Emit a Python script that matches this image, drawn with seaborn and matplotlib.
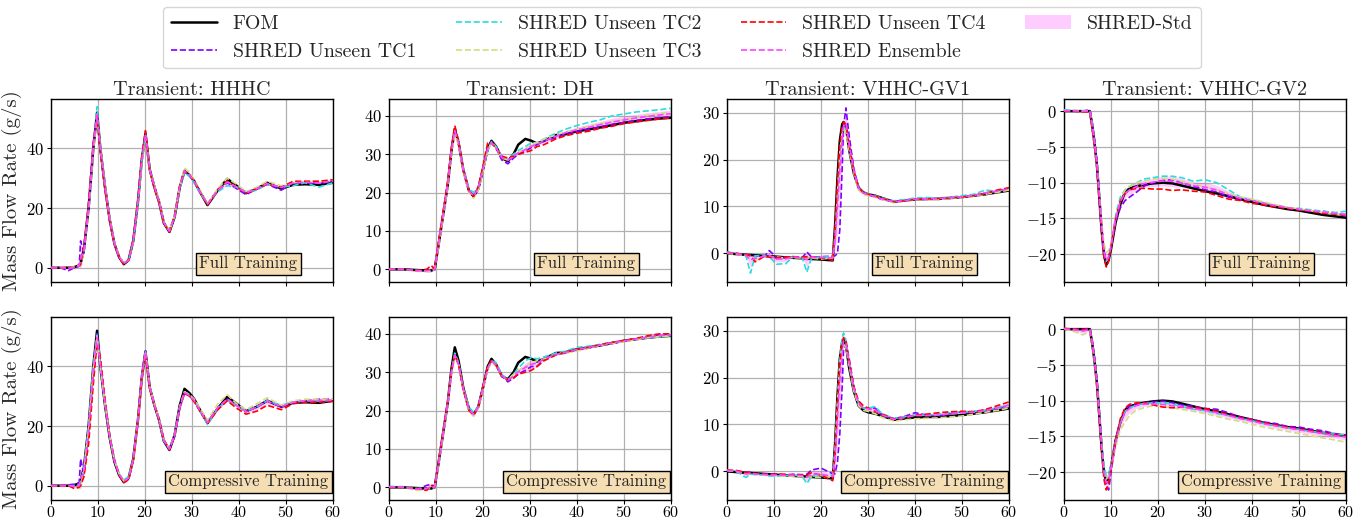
import numpy as np
import matplotlib
matplotlib.use("Agg")
import matplotlib.pyplot as plt
import seaborn as sns
from matplotlib.lines import Line2D
from matplotlib.patches import Patch

# ---------------------------------------------------------------- data
transients = ["HHHC", "DH", "VHHC-GV1", "VHHC-GV2"]
row_labels = ["Full Training", "Compressive Training"]

# --- HHHC
t_hhhc = [0, 2, 3.7, 5, 6, 6.3, 7, 8, 9, 9.8, 10.5, 11.5, 12.5, 13.5, 14.5, 15.5, 16.5, 17.5, 18.5, 19.3,
          20.1, 21, 22, 23, 24, 25.2, 26.3, 27.4, 28.4, 29.5, 30.5, 31.5, 33.3, 35.5, 37.5, 39.5, 41.5, 43.8,
          46, 49, 51.5, 54, 57, 60]
fom_hhhc = [0, 0, 0, 0.2, 0.8, 1.5, 6, 20, 40, 52, 40, 27, 16, 8, 3.5, 1.2, 2.5, 9, 22, 36,
            45, 33, 27, 22, 15, 12, 17, 27, 32.5, 31, 29, 26, 21, 26, 29.8, 27.5, 25, 26.5, 28.5, 26.5,
            27.8, 28, 27.8, 28.5]
hhhc_full_tc1 = [0, 0, -1, 0, 0.5, 9, 5, 20, 41, 51, 40, 27, 16, 8, 3.5, 1.5, 2.5, 9, 22, 36,
                 44.5, 33, 27.5, 22, 15, 12.2, 17, 27, 32, 31, 28.5, 26, 21.5, 26, 28.5, 26.5, 24.5, 26.5, 28, 26,
                 28.5, 28.5, 28.3, 29]
hhhc_full_tc2 = [0, 0, 0, 0, 0.5, 1, 6, 21, 41, 54, 41, 27, 16, 8, 3.5, 1.5, 2.5, 9, 22, 35.5,
                 44.5, 33, 27, 22, 15, 12.2, 17, 26.5, 32, 30.5, 28.5, 25.5, 21.5, 25.5, 27.5, 27, 25.5, 26, 28, 27,
                 27.5, 28.5, 27, 28.5]
hhhc_full_tc3 = [0, 0.3, 0, 0.3, 0.8, 1, 5, 19, 39, 50, 40, 27.5, 16.5, 8.5, 4, 1.5, 2.5, 8.5, 21, 35,
                 44, 33, 27.5, 22.5, 15.5, 12.5, 17.5, 27.5, 33.5, 32, 29.5, 26.5, 21.5, 26.5, 30, 28, 25.5, 27, 29, 27.5,
                 28.5, 29, 29, 29.5]
hhhc_full_tc4 = [0, 0, 0, 0, 0.5, 1, 7, 22, 42, 51, 39, 26, 15.5, 8, 3.5, 1, 2.5, 9.5, 23, 37,
                 46, 33, 26.5, 22, 15, 12, 17, 27.5, 32.5, 31, 29, 26, 21, 26, 29, 27, 25, 26.5, 28, 27,
                 29, 29, 29, 29.5]
hhhc_comp_tc1 = [0, 0, 0.3, 0.5, 1, 9, 4, 20, 40, 51, 40, 27, 16, 8, 3.5, 1.5, 2.5, 9, 22.5, 37,
                 45.5, 33, 27, 22, 15, 12, 16.5, 26, 31, 30, 28.5, 25.5, 21, 26, 29, 27, 25, 26.5, 28.5, 26.5,
                 28, 28.5, 29, 29]
hhhc_comp_tc2 = [0, 0, 0, 0, 0.5, 1, 6, 20, 40, 50.5, 40, 27.5, 16.5, 8.5, 4, 2, 3, 9, 22, 36,
                 45, 33, 27, 22, 15, 12.5, 17, 26.5, 31.5, 30.5, 28.5, 25.5, 20.5, 26, 28.5, 27, 25, 26.5, 28.5, 27,
                 28, 28.5, 28.5, 28.5]
hhhc_comp_tc3 = [0, 0, 0, -0.5, -1, 0, 5, 19, 39, 50, 40, 27.5, 16.5, 8.5, 4, 1.5, 2.5, 8.5, 21.5, 35.5,
                 44.5, 33, 27.5, 22.5, 15.5, 12.5, 17, 26.5, 31.5, 30.5, 29, 26.5, 22, 27.5, 30.5, 27.5, 25.5, 27.5, 29.5, 27,
                 28.5, 29, 29, 29]
hhhc_comp_tc4 = [0, 0, 0, -1, -0.5, 0, 3, 14, 34, 48, 43, 29, 16.5, 8.5, 3.5, 1, 2, 8.5, 21.5, 35.5,
                 44, 32.5, 27, 22, 15.5, 12, 16.5, 26, 31, 30, 28, 25.5, 21, 25.5, 28.5, 26, 24, 25, 27, 25.5,
                 27.5, 28, 28, 28.3]

# --- DH
t_dh = [0, 3, 6, 8, 9, 9.7, 10.5, 11.5, 12.5, 13.3, 14, 14.8, 15.8, 17, 18, 19, 20, 21, 21.8, 22.8,
        24, 25.3, 26.5, 27.5, 29, 30.3, 31.5, 33, 35.5, 37.5, 40, 42.5, 45, 47.5, 50, 52.5, 55, 57.5, 60]
fom_dh = [0, 0, -0.2, -0.3, -0.3, 0, 6, 14, 22, 31, 36.5, 33, 26, 20.5, 19, 21, 26, 31.5, 33.5, 32,
          29, 28.2, 30, 32.5, 34, 33.5, 32.8, 33.5, 35, 35.2, 36, 36.5, 37, 37.6, 38.2, 38.6, 39, 39.3, 39.5]
dh_full_tc1 = [0, 0, -0.3, -0.5, -0.5, 0, 6, 14, 22, 31, 36, 33, 26, 20.5, 19, 21, 26, 31, 33, 31.5,
               28.5, 27.5, 29, 30, 30.8, 31.8, 32.5, 33.5, 34.3, 35.2, 36, 36.5, 37.2, 37.8, 38.3, 38.8, 39.2, 39.5, 39.8]
dh_full_tc2 = [0, 0, -0.3, -0.5, -0.5, 0, 6.5, 14.5, 22.5, 31, 36, 33, 26.5, 21, 20, 21.5, 26, 31, 33.3, 32,
               29.5, 28.5, 30, 31, 32, 33, 33, 34, 35.5, 36.5, 37.5, 38.3, 39, 40, 40.5, 41, 41.3, 41.6, 42]
dh_full_tc3 = [0, 0, -0.5, -0.6, -0.5, 0, 5.5, 13.5, 21.5, 30, 35, 32.5, 25.5, 20, 18.5, 20.5, 25.5, 31, 33, 31.5,
               29, 28.5, 29.5, 30.5, 31.5, 32.5, 33, 34, 35, 35.8, 36.5, 37.3, 38, 38.5, 39, 39.5, 40.2, 40.6, 41]
dh_full_tc4 = [0, 0, -0.3, 0, 1, 0, 7, 15, 23, 32, 37.5, 33.5, 26, 20.5, 19, 21.5, 27, 33, 33, 31.5,
               29.5, 29, 29.5, 30, 30.5, 31, 32, 32.5, 34, 34.8, 35.5, 36, 36.8, 37.3, 38, 38.4, 38.8, 39.2, 39.5]
dh_comp_tc1 = [0.2, 0, -0.5, 0.5, 0.8, 0, 6, 14, 22, 30, 34.5, 32, 26, 20.5, 19, 21, 26, 31, 33, 32,
               29, 27.5, 28.5, 29.5, 30.5, 31.5, 31.5, 33.5, 34.5, 35, 35.8, 36.3, 37, 37.5, 38.2, 38.7, 39.2, 39.8, 40]
dh_comp_tc2 = [0.2, 0.2, -0.3, -0.3, 0, 0, 6, 14, 22, 30.5, 35, 32.5, 26, 21, 19.5, 21, 26, 31, 33, 32.5,
               29.5, 28, 29.5, 31, 33, 33.8, 33.5, 34, 35, 35.5, 36.5, 36.8, 37.3, 37.8, 38.2, 38.6, 39, 39.2, 39.5]
dh_comp_tc3 = [0, 0, -0.8, -0.5, -0.3, 0, 5.5, 13.5, 21.5, 29.5, 34, 32, 25.5, 20, 18.5, 20.5, 25.5, 30.5, 32.5, 31.5,
               29, 28, 29.5, 30.5, 31.5, 32.5, 33, 33.5, 34.5, 35, 35.5, 36.3, 37, 37.5, 38, 38.5, 39, 39.3, 39.5]
dh_comp_tc4 = [0, 0, -0.3, -0.8, 0.5, 0, 6.5, 14.5, 22.5, 30.5, 34.5, 32, 25.5, 20, 18.8, 21, 26.5, 31.5, 33, 31.8,
               29, 28, 28.5, 29.5, 30, 30.5, 31.5, 33, 34.5, 35.2, 36, 36.5, 37.2, 37.8, 38.3, 38.8, 39.5, 40, 40]

# --- VHHC-GV1
t_gv1 = [0, 2, 4, 5, 6, 8, 9, 10.5, 12.5, 14, 16, 17, 18, 20, 22.5, 23, 23.5, 24, 24.5, 24.8,
         25.3, 26, 27, 28, 29, 30, 31.5, 33, 35.5, 38, 40, 42.5, 45, 47.5, 50, 52.5, 55, 57.5, 60]
fom_gv1 = [0, -0.15, -0.3, -0.35, -0.4, -0.55, -0.6, -0.7, -0.85, -0.95, -1.05, -1.1, -1.2, -1.3, -1.5, 6, 16, 24, 27.5, 28,
           27, 22, 17, 14, 13, 12.6, 12.3, 11.8, 11, 11.3, 11.5, 11.6, 11.6, 11.8, 12, 12.3, 12.6, 13, 13.4]
gv1_full_tc1 = [0.2, 0, -0.3, -0.4, -0.5, -0.6, 0.6, -0.8, -0.8, -0.7, -0.9, 0.3, -0.8, -0.7, -0.6, -0.5, 0, 5, 18, 27,
                31, 25, 18, 14, 13, 12.5, 12, 11.5, 11, 11.3, 11.6, 11.5, 11.7, 11.9, 12.1, 12.4, 12.8, 13.3, 13.8]
gv1_full_tc2 = [0.3, 0, -0.5, -4.2, -0.5, -0.6, -0.7, -2.3, -2.2, -0.8, -0.9, -4, -0.9, -0.8, -0.7, 3, 12, 21, 26, 27,
                26.5, 22.5, 17.5, 14, 13, 12.7, 12.3, 11.8, 11.2, 11.5, 11.8, 11.9, 11.8, 12, 12.3, 12.6, 13.5, 13.2, 13.8]
gv1_full_tc3 = [0, -0.2, -0.4, -0.5, -1.5, -0.6, -0.8, -0.8, -1, -0.9, -1, -1, -1, -1.2, -1, 4, 13, 21.5, 26, 26.5,
                26, 22, 17, 13.5, 12.5, 12.3, 12, 11.5, 10.8, 11.2, 11.4, 11.5, 11.5, 11.7, 11.9, 12.2, 12.6, 13, 13.5]
gv1_full_tc4 = [0.2, 0, -0.3, -0.5, -1.8, -0.6, -0.8, -1, -0.8, -0.7, -0.8, -0.7, -0.8, -0.9, -1.5, 5, 15, 23, 27, 28,
                27.5, 23, 17.5, 14, 13, 12.6, 12.2, 11.7, 11, 11.2, 11.5, 11.6, 11.7, 11.8, 12, 12.3, 12.8, 13.5, 14]
gv1_comp_tc1 = [0.2, 0, -0.3, -0.2, -0.5, -0.6, -0.5, -0.6, -0.8, -0.6, -0.7, -0.6, 0.3, 0.7, -0.5, -0.5, 2, 8, 18, 26,
                27, 24, 18, 14.5, 13.5, 13.5, 13.5, 12, 11.2, 11.8, 12.5, 12, 11.8, 12.3, 12.7, 12.7, 13, 13.5, 14]
gv1_comp_tc2 = [0.2, 0, -1.3, -0.6, -0.7, -0.8, -1, -1, -0.9, -0.8, -1, -2.6, -1, -1, -0.8, 5, 15, 24, 28.5, 29.5,
                28, 23, 17.5, 14.5, 13.5, 13.5, 13.8, 12.3, 11.3, 11.7, 12, 12, 12.2, 12.5, 12.7, 12.8, 13, 13.6, 14.2]
gv1_comp_tc3 = [0.2, 0, -0.4, -0.5, -0.6, -0.8, -0.8, -0.9, -1, -1, -1.1, -1.2, -1.2, -1.3, -1.2, 4, 14, 22, 26.5, 27,
                26.5, 22.5, 17, 14, 13, 12.8, 12.3, 11.5, 10.7, 11, 11.2, 11.3, 11.4, 11.6, 11.8, 12.2, 12.6, 13, 13.5]
gv1_comp_tc4 = [0.3, 0.2, -0.2, -0.3, -0.5, -0.6, -0.7, -0.6, -0.6, -0.8, -0.8, -0.7, -0.3, -0.8, -2, 4, 14, 23, 27.5, 28.5,
                28, 23.5, 18, 15, 14, 13.5, 12.8, 12.2, 11.2, 11.5, 12, 12.2, 12.5, 12.7, 12.8, 12.7, 13.2, 14, 14.8]

# --- VHHC-GV2
t_gv2 = [0, 2, 4, 5.5, 6, 6.5, 7, 7.5, 8, 8.5, 9, 9.5, 10, 11, 12, 13, 14, 15.5, 17, 19,
         21, 23, 25, 27.5, 30, 32.5, 35, 37.5, 40, 42.5, 45, 47.5, 50, 52.5, 55, 57.5, 60]
fom_gv2 = [0, 0, 0, 0, -2, -4.5, -7.5, -12, -16.6, -20, -21.5, -20.8, -19.3, -15.5, -13, -11.3, -10.8, -10.5, -10.3, -10.1,
           -10, -10.1, -10.4, -10.8, -11.2, -11.5, -11.9, -12.3, -12.7, -13.1, -13.4, -13.7, -13.9, -14.2, -14.5, -14.7, -14.9]
gv2_full_tc1 = [0, 0, 0, 0.2, -1.5, -4, -7, -11.5, -16, -19.5, -21, -20.5, -19, -15.5, -13.5, -12.5, -12, -11.3, -10.5, -10,
                -9.7, -9.6, -10, -10.5, -11, -11.3, -12, -12.3, -12.5, -13, -13.2, -13.5, -13.8, -14, -14, -14.2, -14.7]
gv2_full_tc2 = [0.2, 0.1, 0, 0, -2, -4.5, -7.5, -12, -16.5, -20, -21, -20.5, -19, -14.5, -12, -11, -10.5, -10, -9.5, -9.3,
                -9.1, -9.1, -9.3, -9.8, -9.6, -10, -11, -12, -12.4, -12.8, -13.2, -13.5, -13.6, -13.8, -14, -14.2, -14]
gv2_full_tc3 = [0, 0.1, 0, 0, -2, -4.5, -7.5, -11.5, -15.5, -18.5, -19.8, -19.5, -18.5, -15, -12.5, -11, -10.5, -10, -9.8, -9.5,
                -9.4, -9.5, -9.8, -10.2, -10.6, -11, -11.5, -12, -12.3, -12.7, -13.1, -13.4, -13.7, -13.9, -14.2, -14.4, -14.5]
gv2_full_tc4 = [0, 0, -0.1, -0.1, -2.5, -5, -8, -12.5, -17, -20.5, -21.8, -21, -19, -15, -12.5, -11.5, -11, -10.8, -10.8, -10.9,
                -10.9, -11.1, -11, -11.2, -11.3, -11.8, -12.3, -12.5, -12.9, -13.1, -13.4, -13.6, -13.8, -14, -14.3, -14.4, -14.5]
gv2_comp_tc1 = [0, 0, 0, 0.1, -1.5, -4, -7, -11.5, -16, -20, -22, -22.5, -20, -15.5, -13, -11, -10.8, -10.5, -10.3, -10.2,
                -10.1, -10.3, -10.6, -10.8, -11.1, -11.2, -11.7, -12.3, -12.6, -13, -13.2, -13.6, -13.7, -14, -14.2, -14.6, -14.8]
gv2_comp_tc2 = [0.1, 0, -0.2, 0, -2, -4.5, -7.5, -12, -16, -19, -20.5, -20.3, -19, -15.5, -13, -11.5, -11, -10.6, -10.4, -10.3,
                -10.3, -10.5, -10.8, -11.2, -11.4, -11.8, -12.1, -12.5, -12.8, -13.2, -13.5, -13.8, -14, -14.3, -14.5, -14.7, -14.8]
gv2_comp_tc3 = [0, -0.3, -0.8, -0.3, -2, -4.5, -7.5, -12, -16.5, -20, -21, -20.5, -19.5, -16.5, -14, -13, -12, -11.3, -11, -10.7,
                -10.8, -11, -11.2, -11.5, -11.8, -12.2, -12.6, -12.9, -13.3, -13.7, -14, -14.3, -14.6, -14.9, -15.2, -15.5, -15.8]
gv2_comp_tc4 = [0.1, 0, -0.1, 0, -2, -4.5, -8, -12.5, -17, -21, -22.5, -21.5, -19.5, -15.5, -12.5, -11, -10.5, -10.3, -10.3, -10.6,
                -10.9, -11, -10.9, -11, -11.1, -11.5, -12, -12.4, -12.7, -13.1, -13.4, -13.7, -14, -14.2, -14.5, -14.8, -15]

times = [t_hhhc, t_dh, t_gv1, t_gv2]
fom = [fom_hhhc, fom_dh, fom_gv1, fom_gv2]
shred = [
    [[hhhc_full_tc1, hhhc_full_tc2, hhhc_full_tc3, hhhc_full_tc4],
     [dh_full_tc1, dh_full_tc2, dh_full_tc3, dh_full_tc4],
     [gv1_full_tc1, gv1_full_tc2, gv1_full_tc3, gv1_full_tc4],
     [gv2_full_tc1, gv2_full_tc2, gv2_full_tc3, gv2_full_tc4]],
    [[hhhc_comp_tc1, hhhc_comp_tc2, hhhc_comp_tc3, hhhc_comp_tc4],
     [dh_comp_tc1, dh_comp_tc2, dh_comp_tc3, dh_comp_tc4],
     [gv1_comp_tc1, gv1_comp_tc2, gv1_comp_tc3, gv1_comp_tc4],
     [gv2_comp_tc1, gv2_comp_tc2, gv2_comp_tc3, gv2_comp_tc4]],
]

y_limits = [(-4.8, 56.6), (-3.3, 44.4), (-6.1, 32.9), (-23.9, 1.7)]
y_ticks = [[0, 20, 40], [0, 10, 20, 30, 40], [0, 10, 20, 30], [-20, -15, -10, -5, 0]]
x_ticks = [0, 10, 20, 30, 40, 50, 60]

# ---------------------------------------------------------------- style
sns.set_style("ticks")
plt.rcParams.update({
    "font.family": "serif",
    "font.serif": ["cmr10"],
    "mathtext.fontset": "cm",
    "axes.formatter.use_mathtext": True,
    "axes.unicode_minus": True,
    "axes.edgecolor": "black",
    "axes.linewidth": 1.0,
    "xtick.color": "black",
    "ytick.color": "black",
    "xtick.labelsize": 11.5,
    "ytick.labelsize": 12,
    "xtick.major.size": 3,
    "ytick.major.size": 3,
    "xtick.major.pad": 0.8,
    "ytick.major.pad": 2,
})

tc_colors = [plt.cm.rainbow(v) for v in np.linspace(0, 1, 4)]
ens_color = "#ff44ff"

W, H = 1364, 519
fig = plt.figure(figsize=(W / 100, H / 100), dpi=100)

lefts = [51, 389, 727, 1064]
tops = [99, 317]
aw, ah = 282, 183

for r in range(2):
    for c in range(4):
        ax = fig.add_axes([lefts[c] / W, 1 - (tops[r] + ah) / H, aw / W, ah / H])
        t = np.array(times[c], dtype=float)
        tcs = np.array(shred[r][c], dtype=float)
        ens = tcs.mean(axis=0)
        sd = tcs.std(axis=0)

        sns.lineplot(x=t, y=np.array(fom[c]), ax=ax, color="black", lw=1.8, legend=False, zorder=3)
        for k in range(4):
            sns.lineplot(x=t, y=tcs[k], ax=ax, color=tc_colors[k], lw=1.2, linestyle="--",
                         legend=False, zorder=4)
        sns.lineplot(x=t, y=ens, ax=ax, color=ens_color, lw=1.2, linestyle="--", legend=False, zorder=5)
        ax.fill_between(t, ens - sd, ens + sd, color="magenta", alpha=0.2, lw=0, zorder=2)

        ax.set_xlim(0, 60)
        ax.set_ylim(*y_limits[c])
        ax.set_xticks(x_ticks)
        ax.set_yticks(y_ticks[c])
        ax.grid(True, color="#b0b0b0", lw=0.9, zorder=0)
        ax.set_axisbelow(True)
        ax.set_xlabel("")
        ax.set_ylabel("")
        if r == 0:
            ax.tick_params(axis="x", labelbottom=False)
            ax.set_title(f"Transient: {transients[c]}", fontsize=14.5, pad=2)
        if c == 0:
            ax.set_ylabel("Mass Flow Rate (g/s)", fontsize=15, labelpad=3)
        ax.text(0.7, 0.1, row_labels[r], transform=ax.transAxes, ha="center", va="center",
                fontsize=12, zorder=10,
                bbox=dict(boxstyle="square,pad=0.2", facecolor="wheat", edgecolor="black", lw=1))

handles = [
    Line2D([], [], color="black", lw=1.8),
    Line2D([], [], color=tc_colors[0], lw=1.2, ls="--"),
    Line2D([], [], color=tc_colors[1], lw=1.2, ls="--"),
    Line2D([], [], color=tc_colors[2], lw=1.2, ls="--"),
    Line2D([], [], color=tc_colors[3], lw=1.2, ls="--"),
    Line2D([], [], color=ens_color, lw=1.2, ls="--"),
    Patch(facecolor="magenta", alpha=0.2, edgecolor="none"),
]
labels = ["FOM", "SHRED Unseen TC1", "SHRED Unseen TC2", "SHRED Unseen TC3",
          "SHRED Unseen TC4", "SHRED Ensemble", "SHRED-Std"]
fig.legend(handles, labels, loc="upper center", bbox_to_anchor=(0.5, 1.006), ncol=4,
           fontsize=14.3, frameon=True, handlelength=2.3)

fig.savefig("out.png", dpi=100)
